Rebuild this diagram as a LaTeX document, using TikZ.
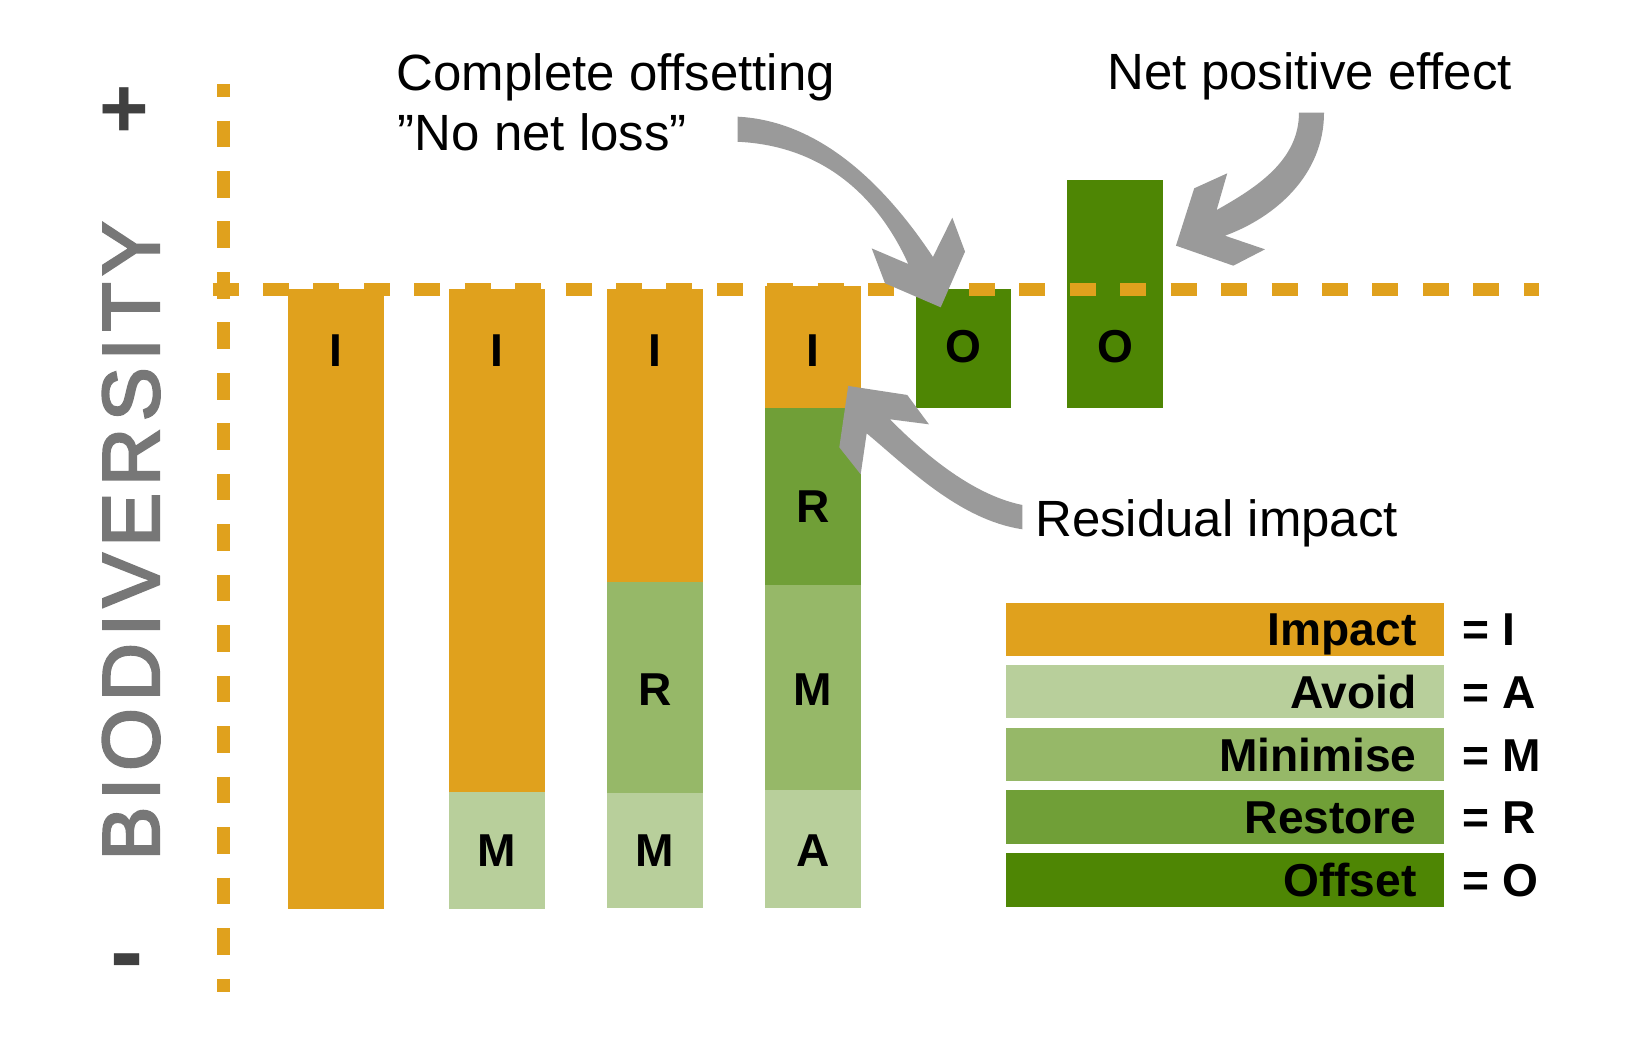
\documentclass[tikz,border=0pt]{standalone}
\usepackage{fontspec}
\setmainfont{Liberation Sans}
\newfontfamily\biofont[LetterSpace=8.3,FakeBold=3]{Liberation Sans}
\definecolor{impact}{HTML}{E0A11D}
\definecolor{avoid}{HTML}{B8CF9B}
\definecolor{minim}{HTML}{96B868}
\definecolor{restore}{HTML}{709F37}
\definecolor{offset}{HTML}{4E8604}
\definecolor{arrowgrey}{HTML}{9A9A9A}
\definecolor{axisgrey}{HTML}{777777}
\definecolor{signgrey}{HTML}{404040}
\begin{document}
\begin{tikzpicture}[x=1pt,y=-1pt,
  every node/.style={inner sep=0pt, outer sep=0pt},
  barlbl/.style={font=\fontsize{44}{50}\selectfont\bfseries, anchor=base},
  leglbl/.style={font=\fontsize{44}{50}\selectfont\bfseries, anchor=base east},
  legeq/.style={font=\fontsize{44}{50}\selectfont\bfseries, anchor=base west},
  annot/.style={font=\fontsize{48.6}{58}\selectfont, anchor=base west},
  bigarrow/.style={fill=arrowgrey},
  axisdash/.style={draw=impact, line width=12.2pt}
]
\useasboundingbox (0,0) rectangle (1568,1007);

% bars
\fill[impact] (274.7,275.6) rectangle (366,866.5);
\fill[impact] (428.3,275.6) rectangle (519.6,755.8);
\fill[avoid] (428.3,755.8) rectangle (519.6,866.5);
\fill[impact] (579.1,275.6) rectangle (670.3,555.3);
\fill[minim] (579.1,555.3) rectangle (670.3,756.1);
\fill[avoid] (579.1,756.1) rectangle (670.3,865.7);
\fill[impact] (729.8,273) rectangle (821,389.1);
\fill[restore] (729.8,389.1) rectangle (821,558.4);
\fill[minim] (729.8,558.4) rectangle (821,753);
\fill[avoid] (729.8,753) rectangle (821,865.7);
\fill[offset] (873.6,275.6) rectangle (964.3,389);
\fill[offset] (1017.7,171.7) rectangle (1109,389);

% legend boxes
\fill[impact] (959.5,575) rectangle (1376.8,626);
\fill[avoid] (959.5,634.6) rectangle (1376.8,684.8);
\fill[minim] (959.5,694.6) rectangle (1376.8,744.8);
\fill[restore] (959.5,753.8) rectangle (1376.8,804.8);
\fill[offset] (959.5,813.9) rectangle (1376.8,864.7);

% axes
\draw[axisdash, dash pattern=on 25.4pt off 22.74pt, dash phase=13.3pt] (213.2,80.1) -- (213.2,945.8);
\draw[axisdash, dash pattern=on 24.8pt off 23.3pt] (202.7,276) -- (1468,276);

% big arrows
\fill[bigarrow] (703.6,111.3) .. controls (783.6,115.3) and (845.8,178.7) .. (889.8,245.1)
  -- (908.3,207.6) -- (920.4,240) -- (897.2,293.1) -- (844.1,270.2) -- (831.4,236.9) -- (866.3,251.8)
  .. controls (841.7,197.2) and (793.6,139.5) .. (703.6,135.2) -- cycle;
\fill[bigarrow] (1262.8,107.5) .. controls (1262.8,167.5) and (1215.3,207.8) .. (1168.3,224.8)
  -- (1206.5,237.8) -- (1176.3,253.4) -- (1121.6,234.3) -- (1139,179.6) -- (1170.5,165.3) -- (1160.4,200.3)
  .. controls (1199.6,178.3) and (1238.9,152.5) .. (1238.9,107.5) -- cycle;
\fill[bigarrow] (975,481.6) .. controls (925,471.6) and (876.8,428.3) .. (848.8,399.9)
  -- (886,404.7) -- (865.3,376.7) -- (809,368.1) -- (800.5,426.6) -- (820.9,452.4) -- (826.6,413.3)
  .. controls (865.1,445.3) and (915,495.8) .. (975,504.8) -- cycle;

% bar labels
\node[barlbl] (l1i) at (320.3,349.8) {I};
\node[barlbl] (l2i) at (474,349.8) {I};
\node[barlbl] (l2m) at (474,826) {M};
\node[barlbl] (l3i) at (624.7,349.8) {I};
\node[barlbl] (l3r) at (624.7,673) {R};
\node[barlbl] (l3m) at (624.7,826) {M};
\node[barlbl] (l4i) at (775.4,349.8) {I};
\node[barlbl] (l4r) at (775.4,498) {R};
\node[barlbl] (l4m) at (775.4,673) {M};
\node[barlbl] (l4a) at (775.4,826) {A};
\node[barlbl] (o1) at (919,346) {O};
\node[barlbl] (o2) at (1063.4,346) {O};

% legend text
\node[leglbl] (gi) at (1351,616) {Impact};
\node[leglbl] (ga) at (1351,675.5) {Avoid};
\node[leglbl] (gm) at (1351,735.5) {Minimise};
\node[leglbl] (gr) at (1351,795) {Restore};
\node[leglbl] (go) at (1351,855) {Offset};
\node[legeq] (ei) at (1395,616) {= I};
\node[legeq] (ea) at (1395,675.5) {= A};
\node[legeq] (em) at (1395,735.5) {= M};
\node[legeq] (er) at (1395,795) {= R};
\node[legeq] (eo) at (1395,855) {= O};

% annotations
\node[annot] (c1) at (378.5,86) {Complete offsetting};
\node[annot] (c2) at (379.5,143.5) {”No net loss”};
\node[annot] (np) at (1056.5,85) {Net positive effect};
\node[annot] (ri) at (987.5,511.5) {Residual impact};

% axis label and signs
\node[rotate=90, anchor=base, text=axisgrey, font=\biofont\fontsize{77}{80}\selectfont] (bio) at (151.6,516) {BIODIVERSITY};
\node[anchor=base, text=signgrey, font=\fontsize{81}{90}\selectfont\bfseries] (plus) at (118.7,130.8) {+};
\node[anchor=base, text=signgrey, font=\fontsize{95}{100}\selectfont\bfseries] (minus) at (121.1,940.3) {-};
\end{tikzpicture}
\end{document}
